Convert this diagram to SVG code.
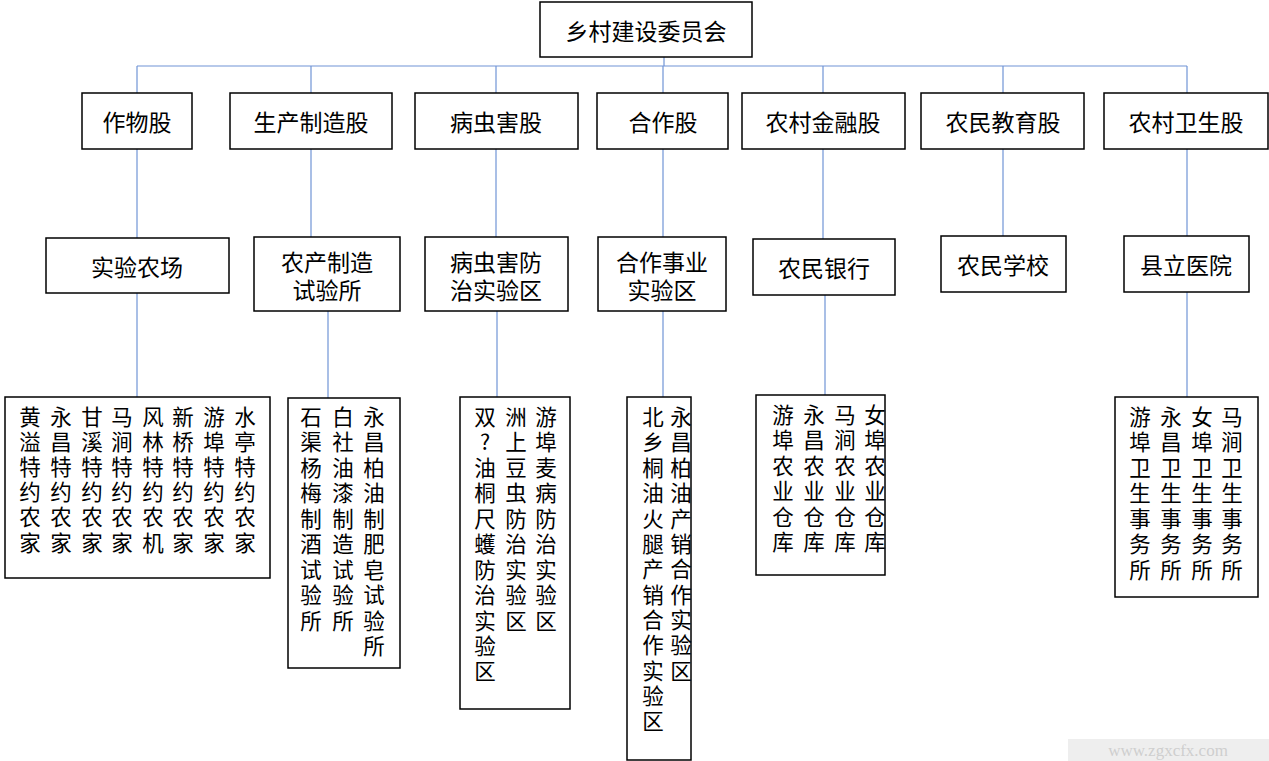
<svg xmlns="http://www.w3.org/2000/svg" width="1269" height="761" viewBox="0 0 1269 761">
<style>
rect.b{fill:#fff;stroke:#000;stroke-width:1.5}
text{font-family:"Noto Sans CJK SC","Liberation Sans",sans-serif;font-size:23px;fill:#000;text-anchor:middle;dominant-baseline:central}
.v{font-size:21.5px}
.c line{stroke:#7094d6;stroke-width:1.2}
</style>
<rect width="1269" height="761" fill="#fff"/>
<g class="c" id="connectors">
<line x1="664" y1="57" x2="664" y2="66"/>
<line x1="137" y1="66" x2="1187" y2="66"/>
<line x1="137" y1="66" x2="137" y2="93"/><line x1="311" y1="66" x2="311" y2="93"/><line x1="496" y1="66" x2="496" y2="93"/><line x1="663" y1="66" x2="663" y2="93"/><line x1="823" y1="66" x2="823" y2="93"/><line x1="1003" y1="66" x2="1003" y2="93"/><line x1="1187" y1="66" x2="1187" y2="93"/>
<line x1="137" y1="149" x2="137" y2="238"/><line x1="311" y1="149" x2="311" y2="237"/><line x1="496" y1="149" x2="496" y2="237"/><line x1="663" y1="149" x2="663" y2="237"/><line x1="823" y1="149" x2="823" y2="239"/><line x1="1003" y1="149" x2="1003" y2="236"/><line x1="1187" y1="149" x2="1187" y2="236"/>
<line x1="137" y1="293" x2="137" y2="397"/><line x1="328" y1="311" x2="328" y2="398"/><line x1="497" y1="311" x2="497" y2="397"/><line x1="663" y1="311" x2="663" y2="397"/><line x1="825" y1="295" x2="825" y2="395"/><line x1="1187" y1="292" x2="1187" y2="397"/>
</g>
<g id="top"><rect class="b" x="540" y="2" width="212" height="55"/><text x="646" y="30">乡村建设委员会</text></g>
<g id="n1"><rect class="b" x="82" y="93" width="110" height="56"/><text x="137" y="121">作物股</text></g>
<g id="n2"><rect class="b" x="230" y="93" width="162" height="56"/><text x="311" y="121">生产制造股</text></g>
<g id="n3"><rect class="b" x="415" y="93" width="163" height="56"/><text x="496" y="121">病虫害股</text></g>
<g id="n4"><rect class="b" x="597" y="93" width="131" height="56"/><text x="663" y="121">合作股</text></g>
<g id="n5"><rect class="b" x="742" y="93" width="163" height="56"/><text x="823" y="121">农村金融股</text></g>
<g id="n6"><rect class="b" x="921" y="93" width="163" height="56"/><text x="1003" y="121">农民教育股</text></g>
<g id="n7"><rect class="b" x="1104" y="93" width="164" height="56"/><text x="1186" y="121">农村卫生股</text></g>
<g id="m1"><rect class="b" x="46" y="238" width="183" height="55"/><text x="137" y="266">实验农场</text></g>
<g id="m2"><rect class="b" x="254" y="237" width="146" height="74"/><text x="327" y="261">农产制造</text><text x="327" y="289">试验所</text></g>
<g id="m3"><rect class="b" x="425" y="237" width="143" height="74"/><text x="496" y="261">病虫害防</text><text x="496" y="289">治实验区</text></g>
<g id="m4"><rect class="b" x="598" y="237" width="128" height="74"/><text x="662" y="261">合作事业</text><text x="662" y="289">实验区</text></g>
<g id="m5"><rect class="b" x="753" y="239" width="142" height="56"/><text x="824" y="267">农民银行</text></g>
<g id="m6"><rect class="b" x="941" y="236" width="125" height="56"/><text x="1003" y="264">农民学校</text></g>
<g id="m7"><rect class="b" x="1124" y="236" width="125" height="56"/><text x="1186" y="264">县立医院</text></g>
<g id="l1"><rect class="b" x="5" y="397" width="265" height="181"/>
<text class="v" x="30" y="415">黄</text><text class="v" x="30" y="440">溢</text><text class="v" x="30" y="465">特</text><text class="v" x="30" y="490">约</text><text class="v" x="30" y="515">农</text><text class="v" x="30" y="541">家</text>
<text class="v" x="61" y="415">永</text><text class="v" x="61" y="440">昌</text><text class="v" x="61" y="465">特</text><text class="v" x="61" y="490">约</text><text class="v" x="61" y="515">农</text><text class="v" x="61" y="541">家</text>
<text class="v" x="92" y="415">甘</text><text class="v" x="92" y="440">溪</text><text class="v" x="92" y="465">特</text><text class="v" x="92" y="490">约</text><text class="v" x="92" y="515">农</text><text class="v" x="92" y="541">家</text>
<text class="v" x="122" y="415">马</text><text class="v" x="122" y="440">涧</text><text class="v" x="122" y="465">特</text><text class="v" x="122" y="490">约</text><text class="v" x="122" y="515">农</text><text class="v" x="122" y="541">家</text>
<text class="v" x="153" y="415">风</text><text class="v" x="153" y="440">林</text><text class="v" x="153" y="465">特</text><text class="v" x="153" y="490">约</text><text class="v" x="153" y="515">农</text><text class="v" x="153" y="541">机</text>
<text class="v" x="183" y="415">新</text><text class="v" x="183" y="440">桥</text><text class="v" x="183" y="465">特</text><text class="v" x="183" y="490">约</text><text class="v" x="183" y="515">农</text><text class="v" x="183" y="541">家</text>
<text class="v" x="214" y="415">游</text><text class="v" x="214" y="440">埠</text><text class="v" x="214" y="465">特</text><text class="v" x="214" y="490">约</text><text class="v" x="214" y="515">农</text><text class="v" x="214" y="541">家</text>
<text class="v" x="245" y="415">水</text><text class="v" x="245" y="440">亭</text><text class="v" x="245" y="465">特</text><text class="v" x="245" y="490">约</text><text class="v" x="245" y="515">农</text><text class="v" x="245" y="541">家</text>
</g>
<g id="l2"><rect class="b" x="288" y="398" width="112" height="270"/>
<text class="v" x="311" y="415">石</text><text class="v" x="311" y="440">渠</text><text class="v" x="311" y="466">杨</text><text class="v" x="311" y="491">梅</text><text class="v" x="311" y="517">制</text><text class="v" x="311" y="542">酒</text><text class="v" x="311" y="568">试</text><text class="v" x="311" y="593">验</text><text class="v" x="311" y="619">所</text>
<text class="v" x="343" y="415">白</text><text class="v" x="343" y="440">社</text><text class="v" x="343" y="466">油</text><text class="v" x="343" y="491">漆</text><text class="v" x="343" y="517">制</text><text class="v" x="343" y="542">造</text><text class="v" x="343" y="568">试</text><text class="v" x="343" y="593">验</text><text class="v" x="343" y="619">所</text>
<text class="v" x="374" y="415">永</text><text class="v" x="374" y="440">昌</text><text class="v" x="374" y="466">柏</text><text class="v" x="374" y="491">油</text><text class="v" x="374" y="517">制</text><text class="v" x="374" y="542">肥</text><text class="v" x="374" y="568">皂</text><text class="v" x="374" y="593">试</text><text class="v" x="374" y="619">验</text><text class="v" x="374" y="644">所</text>
</g>
<g id="l3"><rect class="b" x="460" y="397" width="110" height="312"/>
<text class="v" x="485" y="415">双</text><text class="v" x="485" y="440">?</text><text class="v" x="485" y="466">油</text><text class="v" x="485" y="491">桐</text><text class="v" x="485" y="517">尺</text><text class="v" x="485" y="542">蠖</text><text class="v" x="485" y="568">防</text><text class="v" x="485" y="593">治</text><text class="v" x="485" y="619">实</text><text class="v" x="485" y="644">验</text><text class="v" x="485" y="669">区</text>
<text class="v" x="516" y="415">洲</text><text class="v" x="516" y="440">上</text><text class="v" x="516" y="466">豆</text><text class="v" x="516" y="491">虫</text><text class="v" x="516" y="517">防</text><text class="v" x="516" y="542">治</text><text class="v" x="516" y="568">实</text><text class="v" x="516" y="593">验</text><text class="v" x="516" y="619">区</text>
<text class="v" x="546" y="415">游</text><text class="v" x="546" y="440">埠</text><text class="v" x="546" y="466">麦</text><text class="v" x="546" y="491">病</text><text class="v" x="546" y="517">防</text><text class="v" x="546" y="542">治</text><text class="v" x="546" y="568">实</text><text class="v" x="546" y="593">验</text><text class="v" x="546" y="619">区</text>
</g>
<g id="l4"><rect class="b" x="627" y="397" width="64" height="363"/>
<text class="v" x="653" y="415">北</text><text class="v" x="653" y="440">乡</text><text class="v" x="653" y="466">桐</text><text class="v" x="653" y="491">油</text><text class="v" x="653" y="517">火</text><text class="v" x="653" y="542">腿</text><text class="v" x="653" y="567">产</text><text class="v" x="653" y="593">销</text><text class="v" x="653" y="618">合</text><text class="v" x="653" y="643">作</text><text class="v" x="653" y="669">实</text><text class="v" x="653" y="694">验</text><text class="v" x="653" y="719">区</text>
<text class="v" x="681" y="415">永</text><text class="v" x="681" y="440">昌</text><text class="v" x="681" y="466">柏</text><text class="v" x="681" y="491">油</text><text class="v" x="681" y="517">产</text><text class="v" x="681" y="542">销</text><text class="v" x="681" y="567">合</text><text class="v" x="681" y="593">作</text><text class="v" x="681" y="618">实</text><text class="v" x="681" y="643">验</text><text class="v" x="681" y="669">区</text>
</g>
<g id="l5"><rect class="b" x="756" y="395" width="129" height="180"/>
<text class="v" x="783" y="413">游</text><text class="v" x="783" y="438">埠</text><text class="v" x="783" y="464">农</text><text class="v" x="783" y="489">业</text><text class="v" x="783" y="515">仓</text><text class="v" x="783" y="540">库</text>
<text class="v" x="814" y="413">永</text><text class="v" x="814" y="438">昌</text><text class="v" x="814" y="464">农</text><text class="v" x="814" y="489">业</text><text class="v" x="814" y="515">仓</text><text class="v" x="814" y="540">库</text>
<text class="v" x="845" y="413">马</text><text class="v" x="845" y="438">涧</text><text class="v" x="845" y="464">农</text><text class="v" x="845" y="489">业</text><text class="v" x="845" y="515">仓</text><text class="v" x="845" y="540">库</text>
<text class="v" x="875" y="413">女</text><text class="v" x="875" y="438">埠</text><text class="v" x="875" y="464">农</text><text class="v" x="875" y="489">业</text><text class="v" x="875" y="515">仓</text><text class="v" x="875" y="540">库</text>
</g>
<g id="l6"><rect class="b" x="1115" y="397" width="143" height="200"/>
<text class="v" x="1140" y="415">游</text><text class="v" x="1140" y="440">埠</text><text class="v" x="1140" y="466">卫</text><text class="v" x="1140" y="491">生</text><text class="v" x="1140" y="517">事</text><text class="v" x="1140" y="542">务</text><text class="v" x="1140" y="568">所</text>
<text class="v" x="1171" y="415">永</text><text class="v" x="1171" y="440">昌</text><text class="v" x="1171" y="466">卫</text><text class="v" x="1171" y="491">生</text><text class="v" x="1171" y="517">事</text><text class="v" x="1171" y="542">务</text><text class="v" x="1171" y="568">所</text>
<text class="v" x="1202" y="415">女</text><text class="v" x="1202" y="440">埠</text><text class="v" x="1202" y="466">卫</text><text class="v" x="1202" y="491">生</text><text class="v" x="1202" y="517">事</text><text class="v" x="1202" y="542">务</text><text class="v" x="1202" y="568">所</text>
<text class="v" x="1232" y="415">马</text><text class="v" x="1232" y="440">涧</text><text class="v" x="1232" y="466">卫</text><text class="v" x="1232" y="491">生</text><text class="v" x="1232" y="517">事</text><text class="v" x="1232" y="542">务</text><text class="v" x="1232" y="568">所</text>
</g>
<g id="watermark"><rect x="1068" y="739" width="201" height="22" fill="#eeeeee"/><text x="1168" y="750" style="font-family:'Liberation Serif',serif;font-size:17px;fill:#cfcfcf">www.zgxcfx.com</text></g>
</svg>
